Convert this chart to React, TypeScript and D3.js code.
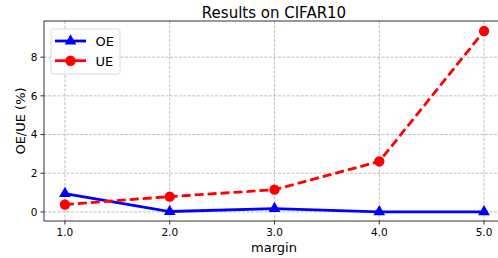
import * as d3 from 'd3';
import React from 'react';

const margins = [1.0, 2.0, 3.0, 4.0, 5.0];
const oeValues = [0.95, 0.02, 0.17, 0.0, 0.0];
const ueValues = [0.38, 0.79, 1.15, 2.61, 9.35];
const xTicks = [1.0, 2.0, 3.0, 4.0, 5.0];
const yTicks = [0, 2, 4, 6, 8];

const width = 498;
const height = 258;
const left = 44;
const right = 505;
const top = 21;
const bottom = 221;
const font = 'DejaVu Sans, sans-serif';

function App() {
  const x = d3.scaleLinear().domain([0.8, 5.2]).range([left, right]);
  const y = d3.scaleLinear().domain([-0.47, 9.87]).range([bottom, top]);

  const line = d3.line<number>()
    .x((_, i) => x(margins[i]))
    .y(d => y(d));

  const tri = d3.symbol().type(d3.symbolTriangle).size(60)();

  return (
    <svg width={width} height={height} style={{ position: 'absolute', left: 0, top: 0 }}>
      <rect width={width} height={height} fill="#fff" />
      <g stroke="#b0b0b0" strokeWidth={0.8} strokeDasharray="3,1.5">
        {xTicks.map(t => (
          <line key={'gx' + t} x1={x(t)} x2={x(t)} y1={top} y2={bottom} />
        ))}
        {yTicks.map(t => (
          <line key={'gy' + t} x1={left} x2={right} y1={y(t)} y2={y(t)} />
        ))}
      </g>

      <path d={line(oeValues) || ''} fill="none" stroke="#0000ff" strokeWidth={2.8} />
      {oeValues.map((v, i) => (
        <path key={'oe' + i} d={tri || ''} transform={`translate(${x(margins[i])},${y(v)})`} fill="#0000ff" />
      ))}
      <path d={line(ueValues) || ''} fill="none" stroke="#ff0000" strokeWidth={2.8} strokeDasharray="9,4" />
      {ueValues.map((v, i) => (
        <circle key={'ue' + i} cx={x(margins[i])} cy={y(v)} r={5.2} fill="#ff0000" />
      ))}

      <rect x={left} y={top} width={right - left} height={bottom - top} fill="none" stroke="#000" strokeWidth={0.8} />

      <g fontFamily={font} fontSize={10.5} fill="#000">
        {xTicks.map(t => (
          <g key={'xt' + t}>
            <line x1={x(t)} x2={x(t)} y1={bottom} y2={bottom + 3.5} stroke="#000" strokeWidth={0.8} />
            <text x={x(t)} y={bottom + 15.3} textAnchor="middle">{t.toFixed(1)}</text>
          </g>
        ))}
        {yTicks.map(t => (
          <g key={'yt' + t}>
            <line x1={left - 3.5} x2={left} y1={y(t)} y2={y(t)} stroke="#000" strokeWidth={0.8} />
            <text x={left - 6.5} y={y(t) + 3.8} textAnchor="end">{t}</text>
          </g>
        ))}
      </g>

      <text x={274} y={17.5} textAnchor="middle" fontFamily={font} fontSize={15}>Results on CIFAR10</text>
      <text x={274} y={252} textAnchor="middle" fontFamily={font} fontSize={13}>margin</text>
      <text transform={`translate(25,${(top + bottom) / 2}) rotate(-90)`} textAnchor="middle" fontFamily={font} fontSize={13}>OE/UE (%)</text>

      <g transform="translate(51,29)">
        <rect width={69} height={45} rx={2} fill="#fff" fillOpacity={0.8} stroke="#d0d0d0" strokeWidth={0.8} />
        <line x1={4} x2={35} y1={12} y2={12} stroke="#0000ff" strokeWidth={2.8} />
        <path d={tri || ''} transform="translate(19.5,12)" fill="#0000ff" />
        <text x={44.5} y={17} fontFamily={font} fontSize={13}>OE</text>
        <line x1={4} x2={35} y1={31.7} y2={31.7} stroke="#ff0000" strokeWidth={2.8} />
        <circle cx={19.5} cy={31.7} r={5.2} fill="#ff0000" />
        <text x={44.5} y={36.7} fontFamily={font} fontSize={13}>UE</text>
      </g>
    </svg>
  );
}

export default App;
